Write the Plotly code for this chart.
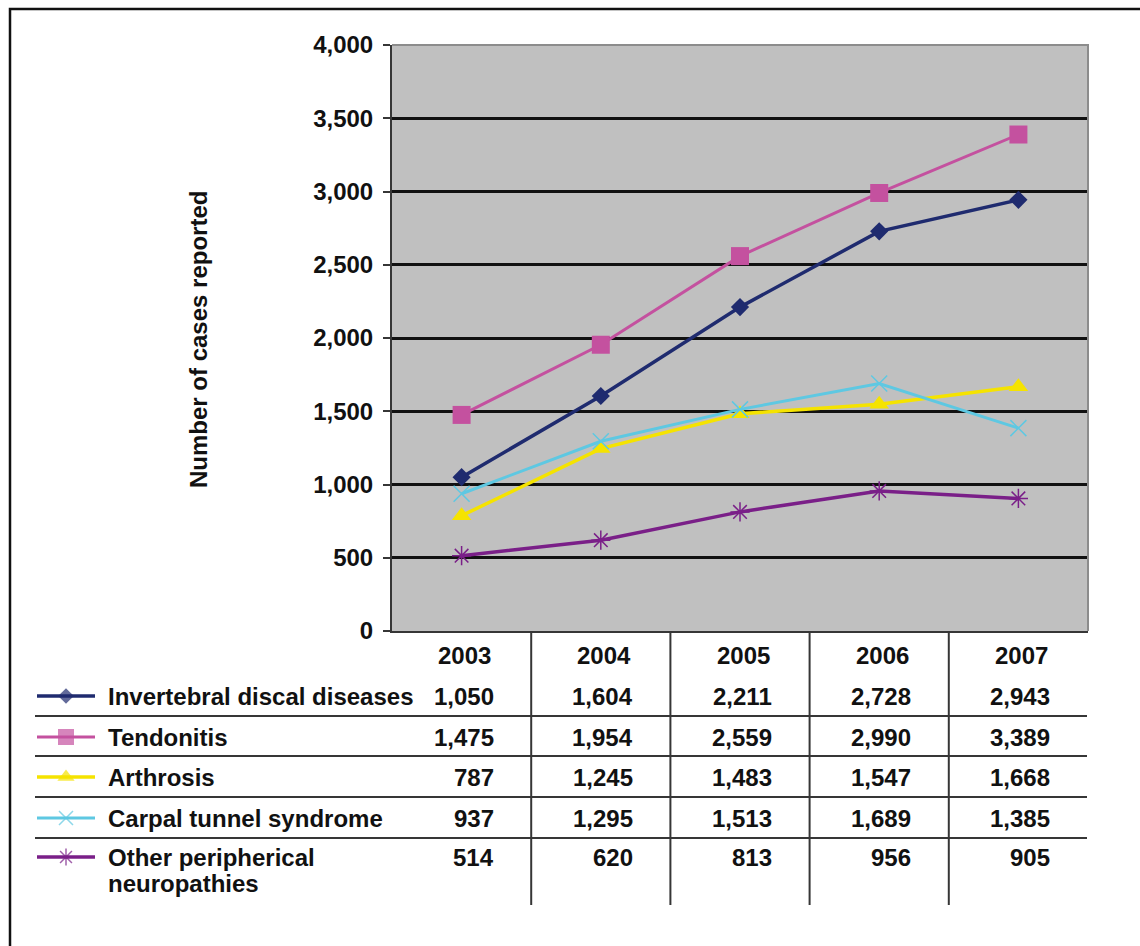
import plotly.graph_objects as go

# ---- data ----
years = ["2003", "2004", "2005", "2006", "2007"]
series_names = [
    "Invertebral discal diseases",
    "Tendonitis",
    "Arthrosis",
    "Carpal tunnel syndrome",
    "Other peripherical<br>neuropathies",
]
invertebral = [1050, 1604, 2211, 2728, 2943]
tendonitis = [1475, 1954, 2559, 2990, 3389]
arthrosis = [787, 1245, 1483, 1547, 1668]
carpal = [937, 1295, 1513, 1689, 1385]
other_neuro = [514, 620, 813, 956, 905]
y_ticks = [0, 500, 1000, 1500, 2000, 2500, 3000, 3500, 4000]

series_values = [invertebral, tendonitis, arthrosis, carpal, other_neuro]
colors = ["#1f2b6f", "#c4519f", "#f5e300", "#5ec8e2", "#7a1f88"]
symbols = ["diamond", "square", "triangle-up", "x-thin", "asterisk"]
msizes = [14, 18, 17, 16, 16]
lwidths = [3.5, 3, 3.5, 3, 3.5]

W, H = 1140, 946
FONT = "Liberation Sans, Arial, sans-serif"
FS = 24


def px(x):
    return x / W


def py(y):
    return 1 - y / H


# plot area in pixels
L, R, T, B = 392, 1088, 45, 631
row_y = [696, 737, 777, 818, 857]
row_lines = [716, 756, 797, 838]
table_bottom = 905

fig = go.Figure()

for name, vals, c, s, ms, lw in zip(series_names, series_values, colors, symbols, msizes, lwidths):
    fig.add_trace(go.Scatter(
        x=list(range(len(years))), y=vals, mode="lines+markers",
        name=name.replace("<br>", " "),
        line=dict(color=c, width=lw),
        marker=dict(symbol=s, size=ms, color=c,
                    line=dict(color=c, width=1.5 if s in ("x-thin", "asterisk") else 0)),
        showlegend=False, xaxis="x", yaxis="y",
    ))

# legend glyphs in the data table (small helper axes in pixel units)
for i, (c, s, ms, lw) in enumerate(zip(colors, symbols, msizes, lwidths)):
    fig.add_trace(go.Scatter(
        x=[37, 66, 95], y=[row_y[i]] * 3, mode="lines+markers",
        line=dict(color=c, width=lw),
        marker=dict(symbol=s, size=[0, ms - 2, 0], color=c,
                    line=dict(color=c, width=1.5 if s in ("x-thin", "asterisk") else 0)),
        showlegend=False, hoverinfo="skip", xaxis="x2", yaxis="y2",
    ))

shapes = []
# gray plot area
shapes.append(dict(type="rect", xref="x", yref="y", x0=-0.5, x1=4.5, y0=0, y1=4000,
                   fillcolor="#c0c0c0", line=dict(width=0), layer="below"))
# light border on top and right of plot area
shapes.append(dict(type="path", xref="paper", yref="paper",
                   path=f"M {px(L)},{py(T)} L {px(R)},{py(T)} L {px(R)},{py(B)}",
                   line=dict(color="#8c8c8c", width=2), layer="above"))
# table column separators
for k in range(len(years) - 1):
    shapes.append(dict(type="line", xref="x", yref="paper", x0=k + 0.5, x1=k + 0.5,
                       y0=py(B), y1=py(table_bottom),
                       line=dict(color="#363636", width=2)))
# table row separators
for yy in row_lines:
    shapes.append(dict(type="line", xref="paper", yref="paper", x0=px(35), x1=px(R - 1),
                       y0=py(yy), y1=py(yy), line=dict(color="#363636", width=2)))
# outer frame
shapes.append(dict(type="rect", xref="paper", yref="paper", x0=px(10), x1=px(W + 20),
                   y0=py(H + 20), y1=py(9), line=dict(color="#111111", width=2.5)))

annotations = []
bold = dict(family=FONT, size=FS, color="#111111", weight="bold")
# year header
for k, yr in enumerate(years):
    annotations.append(dict(x=k, y=py(655), xref="x", yref="paper", text=yr,
                            showarrow=False, xanchor="center", yanchor="middle",
                            xshift=3, font=bold))
# row labels and values
for i, (name, vals) in enumerate(zip(series_names, series_values)):
    parts = name.split("<br>")
    for j, part in enumerate(parts):
        annotations.append(dict(x=px(106), y=py(row_y[i] + 26 * j), xref="paper", yref="paper",
                                text=part, showarrow=False, xanchor="left", yanchor="middle",
                                font=bold))
    for k, v in enumerate(vals):
        annotations.append(dict(x=k, y=py(row_y[i]), xref="x", yref="paper",
                                text=f"{v:,}", showarrow=False, xanchor="right",
                                yanchor="middle", xshift=34, font=bold))
# y-axis title
annotations.append(dict(x=px(198), y=py(340), xref="paper", yref="paper",
                        text="Number of cases reported", textangle=-90, showarrow=False,
                        xanchor="center", yanchor="middle", font=bold))

fig.update_layout(
    template="none",
    width=W, height=H, margin=dict(l=0, r=0, t=0, b=0, pad=0, autoexpand=False),
    paper_bgcolor="white", plot_bgcolor="rgba(0,0,0,0)",
    font=dict(family=FONT, size=FS, color="#111111"),
    xaxis=dict(domain=[px(L), px(R)], range=[-0.5, 4.5], showticklabels=False,
               showgrid=False, zeroline=False, showline=True, linecolor="#363636",
               linewidth=2, ticks="", fixedrange=True, automargin=False),
    yaxis=dict(domain=[py(B), py(T)], range=[0, 4000], tickvals=y_ticks,
               tickformat=",", showgrid=True, gridcolor="#111111", gridwidth=2.5,
               zeroline=False, showline=True, linecolor="#363636", linewidth=2,
               ticks="outside", ticklen=7, tickwidth=2, tickcolor="#363636",
               ticklabelstandoff=5, automargin=False,
               tickfont=dict(family=FONT, size=FS, color="#111111", weight="bold")),
    xaxis2=dict(domain=[0, px(120)], range=[0, 120], visible=False, fixedrange=True,
                anchor="y2", automargin=False),
    yaxis2=dict(domain=[0, py(660)], range=[946, 660], visible=False, fixedrange=True,
                anchor="x2", automargin=False),
    shapes=shapes, annotations=annotations,
)

fig.write_html("out.html")
